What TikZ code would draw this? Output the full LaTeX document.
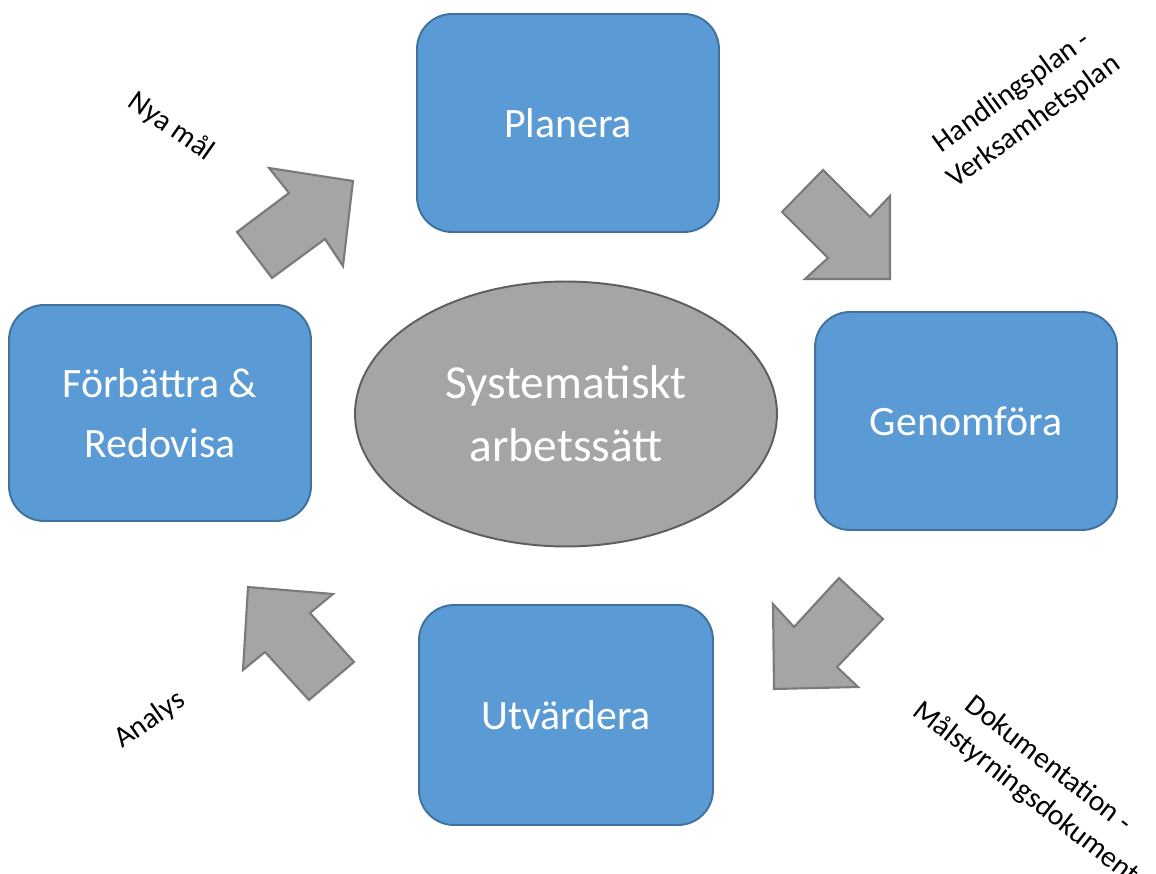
\documentclass[tikz,border=0pt]{standalone}
\usepackage{fontspec}
\setmainfont{Carlito}
\usepackage{xcolor}
\usetikzlibrary{shapes.geometric}

\definecolor{phaseblue}{HTML}{5B9BD5}
\definecolor{phaseedge}{HTML}{41719C}
\definecolor{coregray}{HTML}{A5A5A5}
\definecolor{coreedge}{HTML}{5E5E5E}
\definecolor{arrowedge}{HTML}{7A7A7A}

\begin{document}
\begin{tikzpicture}[
  x=0.02cm, y=-0.02cm,
  phase/.style={rectangle, draw=phaseedge, fill=phaseblue, line width=1.1pt, rounded corners=0.7cm, align=center, text=white, inner sep=0pt, minimum width=6.04cm, minimum height=4.36cm, font=\fontsize{23.8}{34}\selectfont},
  core/.style={ellipse, draw=coreedge, fill=coregray, line width=1.1pt, align=center, text=white, inner sep=0pt, minimum width=8.44cm, minimum height=5.3cm, font=\fontsize{27}{35.7}\selectfont},
  blockarrow/.style={draw=arrowedge, fill=coregray, line width=1.2pt, line join=miter},
  note/.style={align=center, inner sep=0pt, font=\fontsize{16.8}{21}\selectfont}
]
  \useasboundingbox (0,0) rectangle (1156,874);

  % Centre and phases
  \node[core] (core) at (566,414) {Systematiskt\\arbetssätt};
  \node[phase] (planera) at (568,123) {Planera};
  \node[phase] (genomfora) at (966,421) {Genomföra};
  \node[phase, minimum width=5.88cm, minimum height=4.4cm] (utvardera) at (566,715) {Utvärdera};
  \node[phase, minimum height=4.32cm] (forbattra) at (160,413) {Förbättra \&\\Redovisa};

  % Block arrows
  \draw[blockarrow] (237,232) -- (272,278) -- (325,239) -- (343,266) -- (353,181) -- (269,168) -- (289,193) -- cycle;
  \draw[blockarrow] (823,170) -- (782,212) -- (828,258) -- (805,279) -- (890,279) -- (890,196) -- (870,217) -- cycle;
  \draw[blockarrow] (839,578) -- (883,619) -- (837,667) -- (858,687) -- (774,689) -- (773,604) -- (794,627) -- cycle;
  \draw[blockarrow] (248,587) -- (333,594) -- (310,613) -- (354,662) -- (309,700) -- (265,652) -- (243,670) -- cycle;

  % Labels
  \node[note, rotate=-35] (nyamal) at (171,127) {Nya mål};
  \node[note, rotate=36] (handling) at (1023,107) {Handlingsplan -\\Verksamhetsplan};
  \node[note, rotate=-38] (dokument) at (1037,779) {Dokumentation -\\Målstyrningsdokument};
  \node[note, rotate=35] (analys) at (150,720) {Analys};
\end{tikzpicture}
\end{document}
